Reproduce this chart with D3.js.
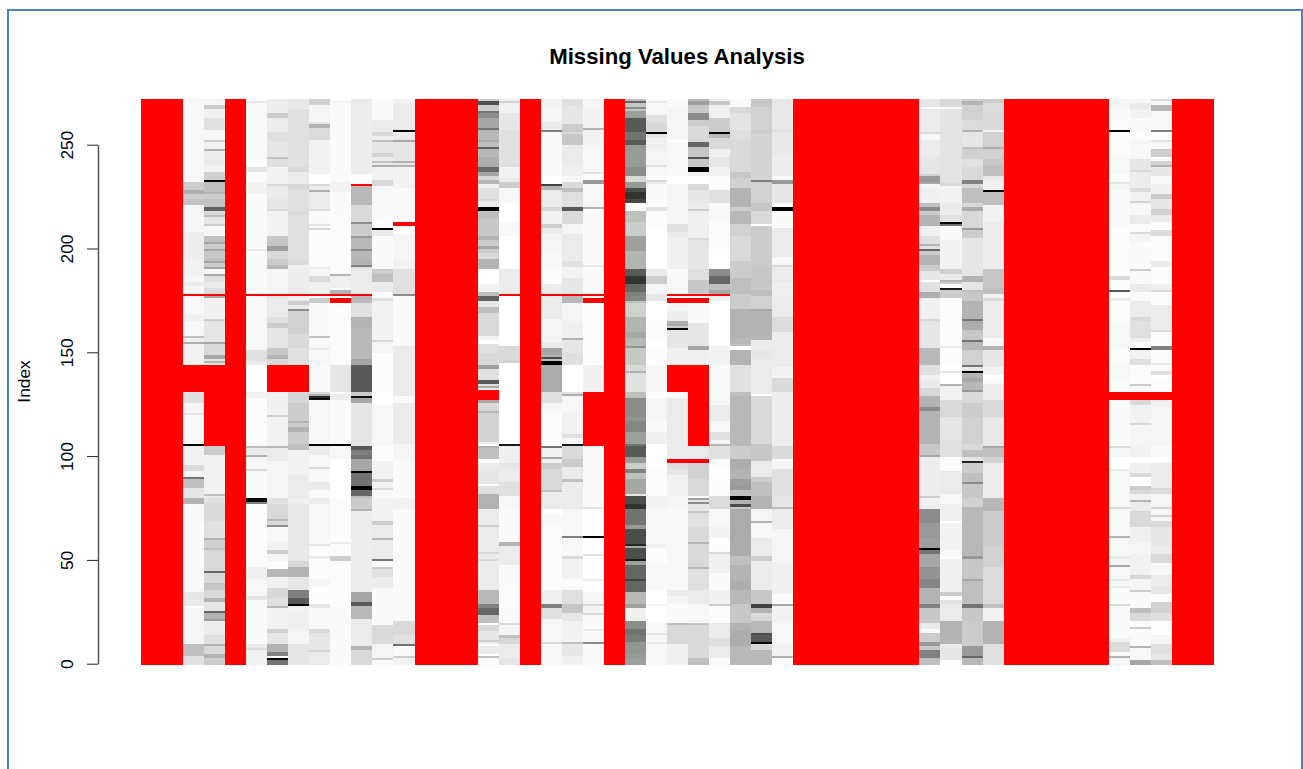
<!DOCTYPE html>
<html>
<head>
<meta charset="utf-8">
<title>Missing Values Analysis</title>
<script src="https://cdn.jsdelivr.net/npm/d3@7"></script>
<style>
  html, body { margin: 0; padding: 0; background: #fff; }
  svg { display: block; }
  text { font-family: "Liberation Sans", Arial, sans-serif; fill: #000; }
</style>
</head>
<body>
<div id="vis"></div>
<script>
// pixel frame
const width = 1303, height = 769;

const TITLE = "Missing Values Analysis";
const Y_LABEL = "Index";
const Y_TICKS = [0, 50, 100, 150, 200, 250];
const N_ROWS = 272;
const N_COLS = 51;

// Columns fully missing (1-based)
const ALL_MISSING = [1, 2, 5, 14, 15, 16, 19, 23, 32, 33, 34, 35, 36, 37, 42, 43, 44, 45, 46, 50, 51];

// Each column reads top-down as pairs: first row index of a run, darkness 0-100 (null = missing)
const col03 = [271,3, 231,20, 227,32, 225,20, 223,24, 220,4, 207,7, 194,5, 186,3, 183,8, 181,4, 177,null, 176,3, 167,6, 164,3, 157,25, 156,6, 154,32, 153,5, 143,null, 130,12, 125,4, 120,10, 119,3, 105,100, 104,5, 95,15, 92,4, 90,5, 89,55, 88,25, 84,10, 79,30, 76,3, 68,2, 34,10, 30,8, 27,0, 26,4, 9,25, 3,12];
const col04 = [271,4, 268,20, 266,6, 262,12, 256,3, 251,20, 250,6, 247,30, 246,8, 239,5, 236,18, 232,100, 231,25, 226,30, 225,20, 223,24, 219,62, 217,15, 215,25, 214,10, 211,20, 210,3, 205,25, 202,35, 201,20, 199,35, 198,22, 194,25, 193,35, 192,20, 190,35, 189,3, 187,35, 186,12, 183,8, 180,14, 177,null, 176,35, 175,6, 165,20, 164,10, 154,35, 153,15, 148,35, 146,10, 145,30, 144,10, 143,null, 104,20, 100,5, 81,25, 80,8, 79,12, 76,15, 68,12, 60,30, 59,18, 55,25, 54,15, 44,60, 43,15, 38,22, 35,15, 31,30, 29,10, 25,60, 24,30, 22,30, 21,40, 20,8, 13,12, 9,30, 8,15, 4,30, 2,20];
const col06 = [271,1, 270,8, 269,2, 238,10, 236,2, 231,5, 225,2, 199,8, 198,2, 177,null, 176,3, 150,12, 145,8, 143,0, 130,5, 127,1, 104,25, 103,8, 100,30, 99,3, 93,15, 92,2, 79,95, 77,50, 76,1, 46,6, 40,3, 32,10, 30,2, 9,8, 7,15, 6,6, 2,5];
const col07 = [271,7, 264,20, 262,7, 255,12, 250,10, 243,25, 242,12, 238,5, 230,15, 229,8, 223,10, 218,15, 217,5, 205,22, 200,38, 198,15, 194,20, 191,28, 189,4, 177,null, 176,10, 175,8, 166,12, 163,20, 161,10, 151,22, 148,30, 146,15, 143,null, 130,6, 119,20, 118,5, 104,28, 103,8, 97,4, 79,12, 76,15, 69,28, 68,15, 66,45, 65,3, 58,5, 54,20, 52,4, 49,1, 45,28, 41,6, 36,15, 31,12, 27,28, 26,5, 16,18, 14,10, 9,30, 5,50, 3,3, 2,100, 1,55];
const col08 = [271,9, 266,12, 238,15, 236,8, 230,15, 227,12, 217,15, 215,12, 194,14, 191,6, 189,7, 177,null, 176,6, 174,20, 172,8, 170,45, 169,18, 158,15, 151,12, 143,null, 130,16, 125,20, 116,30, 115,20, 113,30, 111,20, 105,25, 102,5, 90,8, 79,6, 76,9, 49,15, 46,30, 41,10, 35,50, 31,65, 28,100, 27,5, 24,6, 15,4, 9,10];
const col09 = [271,18, 268,4, 260,10, 259,30, 257,14, 251,5, 235,0, 230,15, 229,8, 227,32, 226,8, 218,12, 217,2, 211,10, 210,2, 209,15, 208,1, 194,1, 190,8, 189,4, 186,15, 183,6, 177,null, 176,1, 175,20, 173,2, 157,25, 156,3, 151,8, 150,3, 143,2, 130,15, 129,30, 128,85, 127,95, 126,3, 105,100, 104,8, 100,3, 94,15, 93,3, 87,8, 83,2, 79,7, 76,3, 57,10, 56,1, 51,8, 50,1, 40,4, 37,1, 28,10, 26,2, 16,15, 14,10, 6,18, 5,8];
const col10 = [271,0, 270,4, 269,2, 231,5, 226,2, 215,1, 187,30, 186,6, 180,1, 179,30, 177,null, 176,1, 175,null, 173,1, 143,10, 130,1, 129,8, 126,2, 105,100, 104,3, 98,0, 79,1, 58,8, 57,1, 51,20, 49,1, 27,2];
const col11 = [271,8, 268,7, 235,1, 230,null, 229,28, 220,15, 212,45, 211,20, 205,40, 204,28, 199,45, 198,28, 194,30, 191,50, 190,12, 189,8, 177,null, 176,28, 173,12, 166,30, 161,28, 146,35, 143,65, 130,20, 128,95, 127,35, 125,10, 104,65, 102,50, 100,55, 98,35, 92,100, 91,55, 85,100, 83,60, 80,25, 79,20, 74,30, 73,7, 34,35, 29,65, 27,28, 21,8, 8,30, 6,15];
const col12 = [271,2, 261,8, 255,15, 253,6, 251,25, 250,10, 245,18, 243,8, 241,25, 240,8, 239,32, 238,5, 232,15, 229,3, 214,1, 209,100, 208,8, 205,2, 189,20, 187,25, 183,8, 178,1, 175,12, 174,5, 155,15, 154,4, 149,1, 130,0, 124,3, 104,1, 97,5, 88,20, 87,5, 84,15, 83,3, 79,5, 68,20, 66,8, 60,30, 59,8, 50,55, 49,2, 46,20, 45,12, 41,8, 36,3, 35,2, 18,15, 9,4, 2,20, 1,2];
const col13 = [271,5, 269,8, 256,100, 255,8, 251,35, 250,10, 241,30, 240,10, 239,30, 238,5, 228,2, 212,null, 210,1, 206,4, 194,5, 189,12, 177,45, 176,2, 152,8, 128,2, 125,8, 105,4, 97,2, 79,5, 74,2, 20,15, 13,12, 9,55, 8,2, 3,20, 2,5];
const col17 = [271,20, 270,70, 268,20, 265,55, 264,45, 262,35, 257,55, 256,28, 251,35, 250,25, 248,62, 247,28, 243,32, 238,58, 236,35, 234,15, 232,28, 230,6, 228,12, 223,16, 222,8, 219,100, 217,25, 213,22, 205,30, 203,20, 200,35, 199,20, 197,15, 194,30, 189,3, 188,0, 182,5, 178,25, 176,62, 174,10, 171,25, 168,15, 157,5, 155,0, 153,12, 149,15, 143,38, 141,12, 136,65, 134,12, 133,35, 132,5, 131,null, 126,35, 125,15, 121,28, 120,17, 106,8, 105,0, 104,30, 103,25, 98,0, 96,8, 93,10, 86,0, 85,12, 81,30, 74,8, 66,20, 65,8, 53,15, 52,8, 50,15, 49,8, 35,28, 28,50, 26,60, 23,25, 19,0, 18,15, 15,10, 11,20, 10,8, 9,0, 8,8, 4,0, 3,25, 2,2];
const col18 = [271,6, 270,18, 269,5, 264,10, 256,12, 238,5, 233,8, 231,20, 228,3, 221,0, 212,3, 205,0, 189,8, 177,null, 176,0, 152,15, 145,18, 144,0, 105,90, 104,6, 96,10, 93,8, 87,12, 80,3, 75,2, 58,30, 56,8, 47,2, 37,1, 27,2, 19,15, 18,4, 13,25, 12,15, 9,8, 2,10];
const col20 = [271,5, 267,4, 260,8, 256,50, 255,2, 234,0, 230,75, 229,30, 227,8, 219,15, 217,5, 211,20, 209,8, 206,4, 196,2, 189,1, 184,0, 182,8, 177,null, 176,8, 165,4, 154,8, 151,35, 148,30, 147,70, 146,25, 145,100, 143,33, 130,12, 125,3, 121,1, 104,55, 103,5, 99,35, 98,5, 96,20, 93,15, 83,25, 82,8, 74,0, 71,3, 65,1, 35,6, 28,50, 26,12, 21,3, 10,15, 9,3];
const col21 = [271,12, 268,10, 259,20, 255,15, 254,22, 249,8, 239,6, 234,3, 231,15, 228,25, 226,12, 219,65, 217,15, 211,4, 206,8, 193,12, 190,5, 185,10, 177,null, 176,28, 173,4, 164,6, 156,30, 155,10, 149,12, 143,0, 130,12, 129,32, 128,3, 121,5, 110,12, 108,3, 105,90, 104,15, 98,20, 94,8, 88,25, 87,8, 74,3, 61,50, 60,3, 51,15, 50,5, 40,2, 35,12, 28,22, 24,10, 20,5, 10,25, 9,10, 3,6];
const col22 = [271,4, 267,5, 257,30, 256,5, 249,3, 236,12, 235,1, 232,40, 230,3, 219,30, 218,2, 191,10, 190,2, 177,null, 176,1, 175,null, 173,1, 143,6, 130,null, 104,2, 75,10, 74,0, 61,100, 60,0, 52,12, 51,0, 40,8, 39,0, 34,4, 28,15, 27,4, 24,15, 23,2, 16,8, 15,2, 10,45, 9,2];
const col24 = [271,25, 270,60, 269,22, 267,45, 266,22, 265,38, 262,65, 255,55, 251,65, 249,40, 238,45, 234,15, 231,40, 228,70, 226,80, 223,72, 221,2, 217,25, 212,20, 205,38, 198,30, 189,65, 186,80, 182,60, 178,50, 176,48, 174,25, 173,18, 166,30, 159,35, 156,28, 152,42, 151,22, 143,15, 140,30, 139,12, 130,25, 127,45, 118,42, 116,48, 111,38, 105,55, 104,65, 99,40, 96,20, 93,50, 91,25, 88,35, 81,10, 80,70, 76,80, 74,55, 66,40, 64,70, 57,85, 56,35, 55,70, 50,90, 49,38, 47,60, 40,75, 39,60, 34,28, 28,38, 26,6, 20,45, 16,55, 13,52, 10,42, 4,40, 2,38];
const col25 = [271,2, 270,8, 269,3, 263,12, 260,15, 255,100, 254,10, 252,6, 246,4, 239,12, 238,3, 234,0, 232,15, 231,8, 230,2, 221,0, 219,12, 217,1, 209,0, 189,8, 186,20, 182,4, 177,10, 174,0, 164,1, 155,0, 151,1, 143,4, 130,0, 127,4, 116,2, 111,6, 105,0, 93,1, 80,5, 74,3, 57,6, 55,1, 48,3, 35,0, 28,4, 27,0, 19,3, 14,10, 13,3, 10,8, 9,3];
const col26 = [271,2, 267,4, 251,1, 250,3, 238,2, 234,0, 230,4, 211,12, 207,8, 204,6, 189,2, 184,3, 177,null, 176,0, 175,null, 173,4, 169,7, 164,32, 162,20, 161,100, 160,10, 151,6, 143,null, 130,2, 127,8, 98,null, 96,12, 93,10, 90,5, 80,4, 74,3, 35,8, 32,4, 28,2, 19,25, 18,15, 13,15, 9,6];
const col27 = [271,28, 270,38, 268,22, 264,45, 261,20, 258,15, 250,60, 248,22, 243,68, 242,22, 238,100, 236,5, 234,0, 230,15, 227,10, 221,8, 218,20, 217,6, 204,15, 203,10, 189,12, 184,22, 177,null, 176,2, 175,null, 173,2, 163,10, 152,35, 150,6, 143,null, 104,8, 98,null, 96,18, 93,18, 88,15, 80,2, 79,38, 78,10, 77,45, 76,10, 73,22, 72,12, 65,15, 58,30, 57,15, 46,28, 45,12, 35,8, 28,3, 19,22, 18,15, 2,25];
const col28 = [271,6, 270,22, 268,6, 262,20, 255,100, 254,28, 252,15, 247,6, 243,10, 238,5, 234,1, 227,12, 221,2, 219,3, 213,1, 199,0, 189,45, 186,60, 182,25, 179,35, 177,null, 176,6, 174,0, 152,5, 143,2, 130,3, 124,8, 116,3, 111,12, 107,4, 105,30, 104,12, 98,1, 93,0, 88,1, 80,14, 74,3, 65,5, 60,1, 53,15, 52,6, 43,2, 35,6, 28,20, 27,1, 19,8, 12,12, 8,8, 2,2];
const col29 = [271,2, 267,15, 264,11, 256,13, 251,15, 236,22, 233,18, 228,30, 219,20, 217,28, 211,18, 205,15, 193,20, 185,25, 177,20, 170,30, 156,28, 153,25, 152,0, 150,30, 143,12, 130,25, 128,28, 104,20, 98,32, 93,30, 88,38, 85,40, 83,25, 80,100, 78,30, 76,70, 75,22, 74,33, 51,25, 47,30, 39,32, 35,28, 28,22, 19,30, 15,32, 8,28];
const col30 = [271,22, 267,18, 256,20, 254,17, 232,50, 231,18, 221,22, 217,15, 211,0, 210,20, 190,22, 179,25, 176,18, 170,35, 169,30, 155,8, 150,10, 146,8, 129,0, 128,15, 105,22, 97,8, 89,20, 87,25, 80,30, 74,4, 68,30, 67,3, 60,8, 51,20, 49,8, 35,22, 28,75, 26,30, 24,15, 20,28, 14,70, 13,65, 10,100, 9,15, 6,28];
const col31 = [271,9, 256,12, 255,9, 244,7, 234,2, 232,40, 230,10, 221,2, 219,100, 217,2, 209,8, 195,3, 191,15, 190,8, 183,6, 176,8, 166,14, 159,8, 142,5, 137,15, 130,7, 104,15, 98,3, 93,12, 80,10, 75,25, 74,8, 64,4, 48,6, 33,2, 28,35, 27,5, 19,3, 9,5, 3,30, 2,1];
const col38 = [271,10, 267,0, 266,8, 255,15, 254,3, 251,8, 243,10, 235,18, 234,40, 231,35, 230,4, 228,6, 221,25, 219,45, 217,20, 215,30, 210,6, 205,12, 201,30, 200,12, 199,60, 198,20, 196,30, 191,20, 188,10, 184,0, 183,12, 178,32, 175,6, 165,15, 164,10, 151,28, 143,12, 138,6, 136,8, 132,15, 128,30, 123,45, 121,30, 105,22, 100,35, 99,7, 80,20, 79,6, 74,45, 67,40, 60,38, 55,100, 54,55, 52,35, 46,42, 40,48, 36,30, 28,50, 26,22, 19,8, 16,2, 14,20, 10,40, 8,22, 6,50, 2,25];
const col39 = [271,15, 267,2, 266,11, 231,15, 229,5, 221,8, 215,12, 212,100, 211,55, 210,2, 203,5, 189,18, 187,8, 184,30, 183,20, 182,0, 180,90, 179,20, 175,1, 152,8, 151,1, 143,0, 140,10, 139,0, 134,30, 133,5, 126,15, 118,10, 107,12, 99,1, 92,8, 81,3, 76,6, 68,0, 67,5, 54,3, 51,0, 50,6, 34,20, 32,0, 30,12, 28,8, 20,30, 9,8, 7,10, 1,1];
const col40 = [271,20, 270,30, 268,18, 261,14, 256,30, 255,10, 248,25, 247,18, 242,12, 238,15, 232,50, 230,15, 228,25, 221,15, 219,32, 217,15, 209,40, 208,20, 204,10, 186,30, 183,10, 179,25, 178,22, 174,30, 165,55, 164,32, 160,22, 155,55, 154,28, 150,18, 143,55, 142,10, 140,100, 139,30, 137,35, 135,28, 131,40, 130,15, 125,20, 118,18, 105,15, 102,25, 99,10, 97,85, 96,20, 91,25, 87,45, 86,22, 79,18, 75,28, 51,40, 50,22, 40,35, 39,25, 28,55, 26,22, 20,20, 8,40, 3,60, 2,28];
const col41 = [271,20, 269,14, 264,15, 256,5, 255,18, 248,32, 247,18, 242,22, 239,25, 234,8, 232,6, 227,100, 226,25, 220,5, 212,7, 189,22, 180,25, 177,5, 175,15, 174,8, 156,3, 152,30, 150,10, 142,5, 138,0, 136,2, 134,8, 126,15, 118,9, 104,35, 103,25, 99,18, 96,8, 79,28, 73,20, 56,18, 46,14, 28,25, 26,5, 20,30, 9,12];
const col47 = [271,4, 266,2, 262,1, 256,100, 255,1, 243,3, 235,1, 231,10, 230,4, 227,2, 209,1, 186,15, 184,1, 179,65, 178,1, 175,8, 174,1, 164,3, 151,1, 144,3, 136,2, 130,null, 126,2, 104,15, 103,4, 99,0, 93,8, 92,3, 75,15, 74,3, 61,30, 60,3, 51,8, 50,3, 47,35, 46,3, 40,10, 39,3, 37,8, 36,2, 28,15, 27,2, 12,6, 10,14, 5,2, 3,30, 2,3];
const col48 = [271,3, 269,8, 266,5, 262,2, 255,1, 251,3, 242,10, 237,15, 236,7, 228,14, 226,5, 222,18, 221,3, 215,8, 211,1, 207,15, 206,4, 202,2, 189,20, 188,2, 182,8, 178,2, 174,8, 166,15, 164,12, 156,6, 154,2, 151,100, 150,5, 146,12, 143,1, 134,20, 133,3, 130,null, 126,15, 124,5, 115,15, 114,4, 104,5, 99,0, 96,6, 91,15, 89,0, 85,20, 83,15, 81,6, 78,30, 77,8, 73,15, 69,15, 65,6, 58,4, 52,5, 42,15, 40,4, 35,20, 34,2, 26,25, 24,15, 20,2, 17,20, 16,2, 8,30, 7,3, 1,35];
const col49 = [271,15, 270,3, 268,28, 265,3, 256,50, 255,0, 251,12, 250,2, 247,20, 243,2, 241,18, 239,30, 238,10, 234,2, 230,6, 225,20, 223,10, 218,18, 215,8, 212,1, 208,14, 205,1, 193,8, 190,1, 182,6, 179,15, 178,1, 172,8, 160,15, 159,1, 152,50, 150,1, 144,10, 143,1, 140,12, 138,0, 136,1, 130,null, 126,6, 123,4, 104,2, 99,0, 96,8, 84,14, 81,4, 75,18, 74,3, 71,18, 70,3, 68,15, 65,10, 56,8, 52,15, 48,3, 42,8, 37,10, 33,1, 29,18, 24,12, 20,0, 13,4, 9,12, 4,10, 1,25];

const GREY_COLUMNS = new Map([
  [3,col03],[4,col04],[6,col06],[7,col07],[8,col08],[9,col09],[10,col10],[11,col11],[12,col12],[13,col13],
  [17,col17],[18,col18],[20,col20],[21,col21],[22,col22],
  [24,col24],[25,col25],[26,col26],[27,col27],[28,col28],[29,col29],[30,col30],[31,col31],
  [38,col38],[39,col39],[40,col40],[41,col41],[47,col47],[48,col48],[49,col49]
]);

// run pairs -> one value per row, index = row
function expandRuns(runs){
  const out = new Array(N_ROWS);
  for (let i = 0; i < runs.length; i += 2){
    const top = runs[i];
    const bottom = i + 2 < runs.length ? runs[i+2] + 1 : 0;
    for (let r = top; r >= bottom; r--) out[r] = runs[i+1];
  }
  return out;
}

const cells = [];
d3.range(1, N_COLS + 1).forEach(c => {
  const vals = ALL_MISSING.includes(c) ? new Array(N_ROWS).fill(null) : expandRuns(GREY_COLUMNS.get(c));
  d3.range(N_ROWS).forEach(r => cells.push({col: c, row: r, v: vals[r]}));
});

const svg = d3.select("#vis").append("svg").attr("width", width).attr("height", height);

// blue slide frame round the plot
svg.append("rect")
  .attr("x", 8).attr("y", 10).attr("width", 1294).attr("height", 800)
  .attr("fill", "none").attr("stroke", "#4f81bd").attr("stroke-width", 2);

const x = d3.scaleBand().domain(d3.range(1, N_COLS + 1)).range([141, 1214]);
const yRow = d3.scaleBand().domain(d3.range(N_ROWS)).range([664.6, 98.8]);
const y = d3.scaleLinear().domain([0, 250]).range([663.7, 144.7]);
const shade = d3.scaleLinear().domain([0, 100]).range(["#ffffff", "#000000"]);

svg.append("g").attr("shape-rendering", "crispEdges")
  .selectAll("rect").data(cells).join("rect")
  .attr("x", d => x(d.col))
  .attr("y", d => yRow(d.row))
  .attr("width", x.bandwidth())
  .attr("height", yRow.bandwidth())
  .attr("fill", d => d.v === null ? "#ff0000" : shade(d.v));

const axis = d3.axisLeft(y).tickValues(Y_TICKS).tickSize(11).tickSizeOuter(0).tickPadding(0);
const gAxis = svg.append("g").attr("transform", "translate(98,0)").call(axis);
gAxis.select(".domain").attr("stroke", "#555").attr("stroke-width", 1.5);
gAxis.selectAll(".tick line").attr("stroke", "#222");
gAxis.selectAll(".tick text")
  .attr("font-family", "Liberation Sans")
  .attr("font-size", 17.3)
  .attr("text-anchor", "middle")
  .attr("dy", 0)
  .attr("x", 0).attr("y", 0)
  .attr("transform", "translate(-25,0) rotate(-90)");

svg.append("text")
  .attr("transform", "translate(30,381.5) rotate(-90)")
  .attr("text-anchor", "middle")
  .attr("font-size", 17.3)
  .text(Y_LABEL);

svg.append("text")
  .attr("x", 677).attr("y", 64)
  .attr("text-anchor", "middle")
  .attr("font-size", 22.2)
  .attr("font-weight", "bold")
  .text(TITLE);
</script>
</body>
</html>
